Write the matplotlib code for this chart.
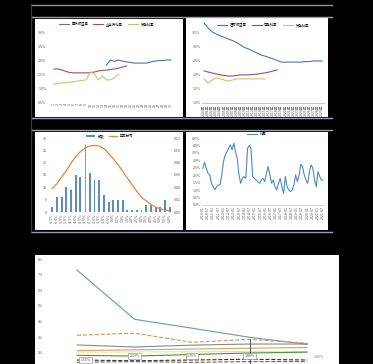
import matplotlib
matplotlib.use("Agg")
import matplotlib.pyplot as plt
from matplotlib.patches import Rectangle
import numpy as np

plt.rcParams['font.family'] = ['Noto Sans CJK SC', 'DejaVu Sans']

W, H = 373, 364

# ---------------- data ----------------
# panel 1 (top-left)
p1_cats = [f"{i+1}" for i in range(30)]
p1_blue = [None]*13 + [1.82, 2.00, 1.95, 2.00, 1.96, 1.93, 1.91, 1.89, 1.89, 1.89, 1.89, 1.93, 1.96, 1.98, 1.98, 2.00, 2.00]
p1_red = [1.68, 1.68, 1.64, 1.59, 1.55, 1.54, 1.54, 1.54, 1.54, 1.55, 1.57, 1.61, 1.63, 1.64, 1.66, 1.68, 1.71, 1.75, 1.79]
p1_yel = [1.14, 1.16, 1.18, 1.20, 1.21, 1.23, 1.25, 1.27, 1.29, 1.57, 1.50, 1.29, 1.43, 1.29, 1.29, 1.36, 1.50]
p1_ticks = [0.5, 1.0, 1.5, 2.0, 2.5, 3.0]
p1_ticklabels = ["0.5%", "1.0%", "1.5%", "2.0%", "2.5%", "3.0%"]
p1_legend = ["国债收益率", "企业债利率", "贷款利率"]

# panel 2 (top-right)
p2_cats = [f"{2000+i}年" for i in range(30)]
p2_blue = [3.82, 3.64, 3.50, 3.43, 3.36, 3.31, 3.25, 3.20, 3.13, 3.04, 2.95, 2.90, 2.83, 2.76, 2.69,
           2.65, 2.60, 2.55, 2.50, 2.44, 2.44, 2.44, 2.44, 2.44, 2.44, 2.46, 2.46, 2.48, 2.48, 2.48]
p2_red = [2.13, 2.09, 2.06, 2.02, 1.99, 1.97, 1.95, 1.95, 1.97, 1.99, 1.99, 1.99, 2.00, 2.02, 2.04, 2.06, 2.09, 2.13, 2.16]
p2_yel = [1.85, 1.70, 1.81, 1.88, 1.85, 1.81, 1.77, 1.81, 1.85, 1.85, 1.85, 1.85, 1.85, 1.85, 1.85, 1.85]
p2_ticks = [1.0, 1.5, 2.0, 2.5, 3.0, 3.5]
p2_ticklabels = ["1.0%", "1.5%", "2.0%", "2.5%", "3.0%", "3.5%"]
p2_legend = ["理财收益率", "存款利率", "贷款利率"]

# panel 3 (histogram + normal curve)
p3_cats = [f"{-6.5+0.5*i:.1f}%" for i in range(26)]
p3_bars = [2, 6, 6, 10, 9, 15, 14, 0, 16, 13, 13, 7, 4, 5, 5, 5, 1, 1, 1, 1, 3, 3, 2, 2, 5, 2]
p3_mark_idx = 7
p3_mark_val = 27.5
p3_curve = [0.038, 0.046, 0.057, 0.067, 0.079, 0.090, 0.098, 0.104, 0.107, 0.108, 0.107, 0.103, 0.095,
            0.086, 0.077, 0.066, 0.055, 0.044, 0.034, 0.024, 0.018, 0.012, 0.008, 0.005, 0.003, 0.002]
p3_lticks = [0, 5, 10, 15, 20, 25, 30]
p3_rticks = [0, 0.02, 0.04, 0.06, 0.08, 0.10, 0.12]
p3_legend = ["频数", "正态分布"]

# panel 4 (time series)
p4_vals = [2.47, 2.87, 2.47, 2.13, 2.02, 1.46, 1.23, 1.01, 1.23, 1.35, 1.35, 2.02, 2.91, 3.36, 3.59, 3.81,
           4.04, 3.70, 4.15, 3.59, 3.14, 2.02, 1.46, 1.79, 1.91, 1.79, 3.81, 3.99, 3.81, 1.91, 1.79, 1.68,
           1.57, 1.46, 1.68, 1.79, 1.57, 2.13, 2.58, 2.02, 1.46, 1.68, 1.23, 1.01, 1.46, 1.79, 1.23, 0.78,
           1.91, 1.23, 1.01, 0.90, 1.01, 1.35, 2.02, 1.57, 2.02, 2.74, 2.58, 2.02, 1.68, 1.46, 2.24, 2.69,
           2.47, 1.68, 1.23, 2.24, 1.91, 1.68, 1.68]
p4_labels = ["2010-01", "2010-07", "2011-01", "2011-07", "2012-01", "2012-07", "2013-01", "2013-07",
             "2014-01", "2014-07", "2015-01", "2015-07", "2016-01", "2016-07", "2017-01", "2017-07",
             "2018-01", "2018-07", "2019-01", "2019-07", "2020-01", "2020-07", "2021-01", "2021-07"]
p4_ticks = [0.0, 0.5, 1.0, 1.5, 2.0, 2.5, 3.0, 3.5, 4.0, 4.5]
p4_legend = ["利差"]

# bottom panel
b_cats = ["2020", "2021", "2022", "2023", "2024"]
b_series = [
    [7.29, 4.15, 3.58, 3.00, 2.55],
    [3.13, 3.26, 2.68, 2.87, 2.62],
    [2.51, 2.38, 2.50, 2.57, 2.57],
    [2.05, 2.07, 2.07, 2.10, 2.10],
    [2.15, 2.20, 2.25, 2.30, 2.35],
    [1.85, 1.80, 1.90, 2.00, 2.05],
    [1.55, 1.50, 1.55, 1.60, 1.55],
    [1.40, 1.45, 1.40, 1.45, 1.45],
]
b_colors = ["#6f93b8", "#d9955a", "#7d8a96", "#eee58a", "#c9a860", "#4f8f3f", "#333333", "#8a5a3a"]
b_styles = ["-", "--", "-", "-", "-", "-", "--", "--"]
b_ticks = [2, 3, 4, 5, 6, 7, 8]
b_ticklabels = ["2%", "3%", "4%", "5%", "6%", "7%", "8%"]
b_box_labels = ["1.55%", "2.10%", "1.75%", "1.80%"]
b_box_y = [1.55, 1.80, 1.80, 1.80]
b_end_label = "1.85%"

# ---------------- helpers ----------------
fig = plt.figure(figsize=(W/100, H/100), dpi=100, facecolor="black")


def rect(x0, y0, x1, y1):
    return [x0/W, 1 - y1/H, (x1-x0)/W, (y1-y0)/H]


def white_panel(x0, y0, x1, y1):
    fig.patches.append(Rectangle((x0/W, 1-y1/H), (x1-x0)/W, (y1-y0)/H, transform=fig.transFigure,
                                 facecolor="white", edgecolor="none", zorder=-10))


def hline(y, x0, x1, color="#8a939c", lw=1.0):
    fig.add_artist(plt.Line2D([x0/W, x1/W], [1-y/H, 1-y/H], transform=fig.transFigure, color=color, lw=lw,
                              zorder=-5))


def style_ax(ax, fs=2.6):
    ax.set_facecolor("none")
    for s in ax.spines.values():
        s.set_visible(False)
    ax.tick_params(length=0, labelsize=fs, colors="#555555", pad=1)


# frame lines
hline(4.5, 31, 332)
hline(16.5, 31, 332, color="#9aa3ac")
hline(118, 31, 332, color="#9aa3ac")
hline(130, 31, 332, color="#9aa3ac")
hline(231.5, 31, 332, color="#9aa3ac")
fig.add_artist(plt.Line2D([31/W, 31/W], [1-4/H, 1-232/H], transform=fig.transFigure, color="#3a3a3a", lw=0.8,
                          zorder=-5))

# white panels
white_panel(35, 19, 183, 117)
white_panel(186, 18, 328, 117)
white_panel(35, 132, 183, 230)
white_panel(186, 132, 328, 230)
white_panel(35, 255, 339, 364)

# ---------------- panel 1 ----------------
ax1 = fig.add_axes(rect(52, 32, 173, 102))
style_ax(ax1)
x = np.arange(len(p1_cats))
ax1.plot(x, [np.nan if v is None else v for v in p1_blue], color="#4a78b5", lw=0.8, label=p1_legend[0])
ax1.plot(np.arange(len(p1_red)), p1_red, color="#a94a64", lw=0.8, label=p1_legend[1])
ax1.plot(np.arange(len(p1_yel)), p1_yel, color="#bccb6a", lw=0.8, label=p1_legend[2])
ax1.set_xlim(-0.5, len(p1_cats)-0.5)
ax1.set_ylim(0.5, 3.0)
ax1.set_yticks(p1_ticks)
ax1.set_yticklabels(p1_ticklabels)
ax1.set_xticks(x)
ax1.set_xticklabels(p1_cats, rotation=90)
ax1.tick_params(axis="y", pad=4)
ax1.legend(loc="lower center", bbox_to_anchor=(0.45, 1.02), ncol=3, fontsize=2.4, frameon=False,
           handlelength=3, columnspacing=1.5, borderaxespad=0.8)

# ---------------- panel 2 ----------------
ax2 = fig.add_axes(rect(202, 20, 324, 103))
style_ax(ax2)
x = np.arange(len(p2_cats))
ax2.plot(x, p2_blue, color="#4a78b5", lw=0.8, label=p2_legend[0])
ax2.plot(np.arange(len(p2_red)), p2_red, color="#a94a64", lw=0.8, label=p2_legend[1])
ax2.plot(np.arange(len(p2_yel)), p2_yel, color="#bccb6a", lw=0.8, label=p2_legend[2])
ax2.set_xlim(-0.5, len(p2_cats)-0.5)
ax2.set_ylim(1.0, 1.0 + (103-20)/28.4)
ax2.set_yticks(p2_ticks)
ax2.set_yticklabels(p2_ticklabels)
ax2.set_xticks(x)
ax2.set_xticklabels(p2_cats, rotation=90)
ax2.spines["bottom"].set_visible(True)
ax2.spines["bottom"].set_color("#bbbbbb")
ax2.spines["bottom"].set_linewidth(0.6)
ax2.legend(loc="upper center", bbox_to_anchor=(0.5, 1.0), ncol=3, fontsize=2.4, frameon=False,
           handlelength=3, columnspacing=1.5)

# ---------------- panel 3 ----------------
ax3 = fig.add_axes(rect(48, 138, 172, 212))
style_ax(ax3)
x = np.arange(len(p3_cats))
ax3.bar(x, p3_bars, width=0.4, color="#5b8cc6", label=p3_legend[0])
ax3.vlines(p3_mark_idx, 0, p3_mark_val, color="#5b8cc6", lw=0.6)
ax3.set_xlim(-0.9, len(p3_cats)-0.5)
ax3.set_ylim(0, 30)
ax3.set_yticks(p3_lticks)
ax3.set_xticks(x)
ax3.set_xticklabels(p3_cats, rotation=90)
ax3r = ax3.twinx()
style_ax(ax3r)
ax3r.plot(x, p3_curve, color="#e0883a", lw=0.9, label=p3_legend[1])
ax3r.set_ylim(0, 0.12)
ax3r.set_yticks(p3_rticks)
h1, l1 = ax3.get_legend_handles_labels()
h2, l2 = ax3r.get_legend_handles_labels()
ax3r.legend(h1 + h2, l1 + l2, loc="lower center", bbox_to_anchor=(0.5, 0.96), ncol=2, fontsize=2.4,
            frameon=False, handlelength=2.5, columnspacing=1.5)

# ---------------- panel 4 ----------------
ax4 = fig.add_axes(rect(202, 138, 324, 205))
style_ax(ax4)
x = np.arange(len(p4_vals))
ax4.plot(x, p4_vals, color="#4f88c6", lw=0.8, label=p4_legend[0])
ax4.set_xlim(-0.5, len(p4_vals)-0.5)
ax4.set_ylim(0, 4.5)
ax4.set_yticks(p4_ticks)
ax4.set_yticklabels([f"{t:.1f}%" for t in p4_ticks])
pos = np.linspace(0, len(p4_vals)-1, len(p4_labels))
ax4.set_xticks(pos)
ax4.set_xticklabels(p4_labels, rotation=90)
ax4.spines["bottom"].set_visible(True)
ax4.spines["bottom"].set_color("#cccccc")
ax4.spines["bottom"].set_linewidth(0.6)
ax4.legend(loc="lower center", bbox_to_anchor=(0.45, 0.98), fontsize=2.4, frameon=False, handlelength=3)

# ---------------- bottom panel ----------------
axb = fig.add_axes(rect(56, 259, 325, 378))
style_ax(axb)
x = np.arange(len(b_cats))
for vals, c, ls in zip(b_series, b_colors, b_styles):
    axb.plot(x, vals, color=c, lw=0.8, ls=ls)
axb.set_xlim(-0.365, len(b_cats)-1+0.31)
axb.set_ylim(0.4, 8)
axb.set_yticks(b_ticks)
axb.set_yticklabels(b_ticklabels)
axb.tick_params(axis="y", pad=9)
axb.set_xticks([])
axb.vlines(3, 0.4, 2.9, color="#222222", lw=0.5)
for i, (lab, yy) in enumerate(zip(b_box_labels, b_box_y)):
    axb.text(i + (0.15 if i == 0 else 0), yy, lab, fontsize=2.6, ha="center", va="center", color="#444444",
             bbox=dict(boxstyle="square,pad=0.3", fc="white", ec="#888888", lw=0.4))
axb.text(len(b_cats)-1 + 0.12, 1.75, b_end_label, fontsize=2.6, ha="left", va="center", color="#777777")

fig.savefig("out.png", dpi=100, facecolor="black")
